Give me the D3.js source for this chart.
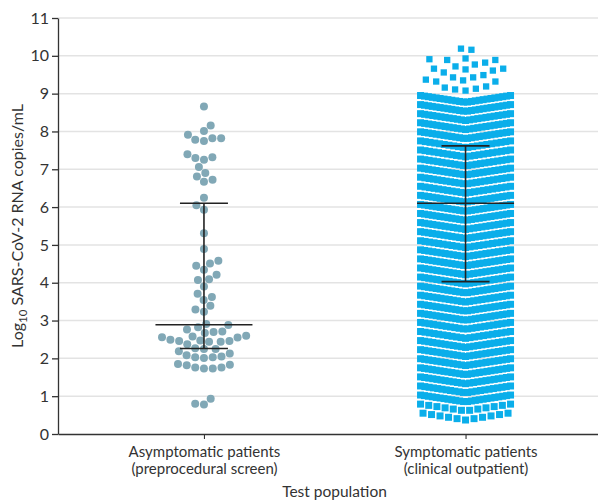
<!DOCTYPE html>
<html><head><meta charset="utf-8">
<script src="https://cdn.jsdelivr.net/npm/d3@7"></script>
<style>body{margin:0;background:#fff}svg{display:block}</style>
</head><body><svg id="c" width="598" height="502"></svg>
<script>
// ---------------- data ----------------
const categories = ["Asymptomatic", "Symptomatic"];
const categoryLabels = [
  ["Asymptomatic patients", "(preprocedural screen)"],
  ["Symptomatic patients", "(clinical outpatient)"]
];
const yTicks = [0, 1, 2, 3, 4, 5, 6, 7, 8, 9, 10, 11];

// Asymptomatic patients: individual log10 values
const asymptomaticValues = [
  8.66, 8.16, 8.01, 7.91, 7.82, 7.82, 7.78, 7.75, 7.40, 7.32, 7.30, 7.25,
  7.06, 6.90, 6.81, 6.72, 6.67, 6.25, 6.05, 5.93, 5.31, 4.89, 4.58, 4.51,
  4.45, 4.34, 4.21, 4.09, 4.07, 3.90, 3.71, 3.62, 3.54, 3.39, 3.29, 3.23,
  2.91, 2.88, 2.82, 2.76, 2.71, 2.70, 2.67, 2.60, 2.58, 2.56, 2.55, 2.49,
  2.47, 2.46, 2.46, 2.44, 2.44, 2.37, 2.27, 2.25, 2.25, 2.19, 2.13, 2.08,
  2.05, 2.03, 2.03, 2.01, 1.85, 1.83, 1.82, 1.76, 1.76, 1.73, 1.73, 0.93,
  0.80, 0.78
];

// Symptomatic patients, sparse top: individual log10 values
const symptomaticTopValues = [
  10.19, 10.16, 9.93, 9.91, 9.89, 9.89, 9.82, 9.77, 9.72, 9.66, 9.66, 9.64,
  9.61, 9.56, 9.49, 9.43, 9.43, 9.37, 9.35, 9.32, 9.32, 9.19, 9.16, 9.13,
  9.11, 9.08
];
// Symptomatic patients, dense part: binned rows (lowest value of each bin) and counts per bin
const symptomaticBinStart = [
  8.77, 8.53, 8.29, 8.05, 7.81, 7.57, 7.33, 7.09, 6.85, 6.61, 6.37, 6.13,
  5.89, 5.65, 5.41, 5.17, 4.93, 4.69, 4.45, 4.21, 3.97, 3.73, 3.49, 3.25,
  3.01, 2.77, 2.53, 2.29, 2.05, 1.81, 1.57, 1.33, 1.09, 0.85, 0.61, 0.37
];
const symptomaticBinCount = [
  24, 24, 23, 23, 24, 20, 21, 22, 24, 22, 21, 24,
  24, 24, 23, 24, 21, 23, 24, 23, 23, 24, 23, 24,
  24, 22, 21, 23, 23, 23, 24, 23, 22, 24, 12, 11
];
const binSpan = 0.18;

// median and interquartile range [Q1, median, Q3]
const asymptomaticSummary = [2.26, 2.89, 6.10];
const symptomaticSummary = [4.03, 6.10, 7.62];

// ---------------- chart ----------------
const W = 598, H = 502;
const svg = d3.select("#c");
const FONT = "Lato, 'Open Sans', sans-serif";

const y = d3.scaleLinear().domain([0, 11]).range([434, 18]);
const x = d3.scalePoint().domain(categories).range([58, 611.5]).padding(0.558);

// grid
svg.append("g").selectAll("line").data(yTicks.filter(d => d > 0)).join("line")
  .attr("x1", 58).attr("x2", W).attr("y1", d => y(d)).attr("y2", d => y(d))
  .attr("stroke", "#e3e3e3").attr("stroke-width", 1.5);

// y axis
const yAxis = svg.append("g").attr("transform", "translate(58,0)")
  .call(d3.axisLeft(y).tickValues(yTicks).tickSize(6).tickPadding(3).tickSizeOuter(0));
yAxis.select(".domain").attr("stroke", "#333").attr("stroke-width", 1.3);
yAxis.selectAll(".tick line").attr("stroke", "#333").attr("stroke-width", 1.3);
yAxis.selectAll("text").attr("font-family", FONT).attr("font-size", 16).attr("fill", "#333");

// x axis
const xAxis = svg.append("g").attr("transform", "translate(0,434)")
  .call(d3.axisBottom(x).tickSize(5).tickSizeOuter(0).tickFormat(""));
xAxis.select(".domain").attr("stroke", "#333").attr("stroke-width", 1.3);
xAxis.selectAll(".tick line").attr("stroke", "#333").attr("stroke-width", 1.1);
xAxis.selectAll(".tick").each(function(d, i) {
  const t = d3.select(this).append("text").attr("font-family", FONT).attr("font-size", 15)
    .attr("fill", "#333").attr("text-anchor", "middle");
  categoryLabels[i].forEach((s, j) => t.append("tspan").attr("x", 0).attr("y", 23 + j * 17).text(s));
});

// axis titles
svg.append("text").attr("x", 334.5).attr("y", 497).attr("text-anchor", "middle")
  .attr("font-family", FONT).attr("font-size", 15.5).attr("fill", "#333").text("Test population");
const yt = svg.append("text").attr("transform", "translate(23,226) rotate(-90)")
  .attr("text-anchor", "middle").attr("font-family", FONT).attr("font-size", 16).attr("fill", "#333");
yt.append("tspan").text("Log");
yt.append("tspan").attr("font-size", 11.5).attr("dy", 4).text("10");
yt.append("tspan").attr("dy", -4).text(" SARS-CoV-2 RNA copies/mL");

// beeswarm layout (sorted ascending, nearest-to-centre free slot)
function beeswarm(values, d) {
  const pts = values.map(v => ({v, py: y(v)})).sort((a, b) => a.v - b.v);
  const placed = [];
  pts.forEach((p, k) => {
    const nb = placed.filter(q => Math.abs(q.py - p.py) < d);
    const c = [0];
    nb.forEach(q => { const dx = Math.sqrt(d * d - (q.py - p.py) ** 2); c.push(q.dx + dx, q.dx - dx); });
    c.sort((a, b) => Math.abs(a) - Math.abs(b) || (k % 2 ? a - b : b - a));
    for (const cx of c) {
      if (nb.every(q => (q.dx - cx) ** 2 + (q.py - p.py) ** 2 >= d * d - 1e-6)) { p.dx = cx; break; }
    }
    placed.push(p);
  });
  return placed;
}
const r = 4;
const asymPts = beeswarm(asymptomaticValues, 2 * r + 0.8);
svg.append("g").selectAll("circle").data(asymPts).join("circle")
  .attr("cx", d => x(categories[0]) + d.dx).attr("cy", d => d.py).attr("r", r)
  .attr("fill", "#81a8b6");

// binned rows for symptomatic
const sq = 7, wmax = 97;
const symPts = [];
symptomaticBinStart.forEach((b, i) => {
  const n = symptomaticBinCount[i];
  const p = n > 1 ? Math.min(8.5, (wmax - sq) / (n - 1)) : 0;
  const mo = (n - 1) / 2;
  for (let k = 0; k < n; k++) {
    const off = k - mo;
    const t = mo > 0 ? Math.abs(off) / mo : 0;
    symPts.push({dx: off * p, py: y(b + binSpan * t), t});
  }
});
symPts.sort((a, b) => a.t - b.t);
const topPts = beeswarm(symptomaticTopValues, 10.5);
const sqTop = 6.3;
const gs = svg.append("g").attr("fill", "#0aaeea");
gs.selectAll("rect.d").data(symPts).join("rect").attr("class", "d")
  .attr("x", d => x(categories[1]) + d.dx - sq / 2).attr("y", d => d.py - sq / 2)
  .attr("width", sq).attr("height", sq);
gs.selectAll("rect.t").data(topPts).join("rect").attr("class", "t")
  .attr("x", d => x(categories[1]) + d.dx - sqTop / 2).attr("y", d => d.py - sqTop / 2)
  .attr("width", sqTop).attr("height", sqTop);

// median + IQR
function summary(cat, s) {
  const cx = x(cat), g = svg.append("g").attr("stroke", "#222").attr("stroke-width", 1.6);
  g.append("line").attr("x1", cx).attr("x2", cx).attr("y1", y(s[0])).attr("y2", y(s[2]));
  g.append("line").attr("x1", cx - 48.5).attr("x2", cx + 48.5).attr("y1", y(s[1])).attr("y2", y(s[1]));
  [s[0], s[2]].forEach(v => g.append("line").attr("x1", cx - 24).attr("x2", cx + 24).attr("y1", y(v)).attr("y2", y(v)));
}
summary(categories[0], asymptomaticSummary);
summary(categories[1], symptomaticSummary);
</script></body></html>
